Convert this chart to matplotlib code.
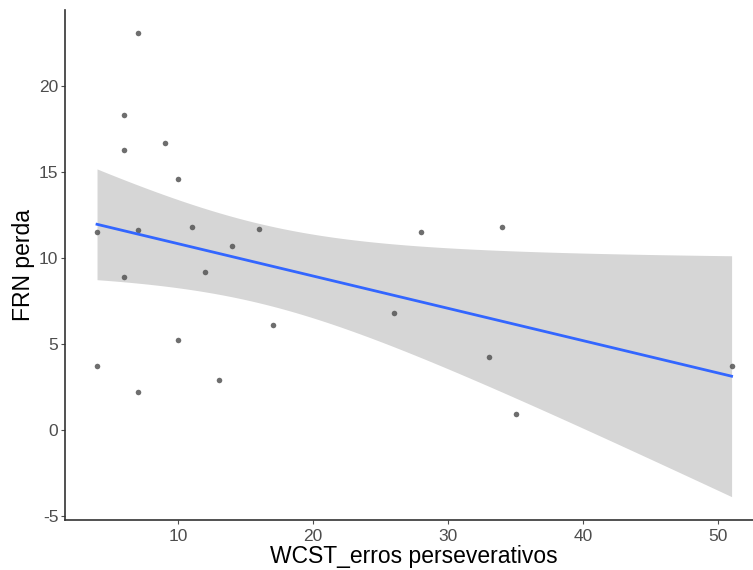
import numpy as np
from matplotlib import pyplot as plt

plt.rcParams['font.family'] = ['Liberation Sans', 'DejaVu Sans']
plt.rcParams['axes.unicode_minus'] = False

# Data
wcst_erros = [7, 6, 9, 6, 10, 4, 7, 11, 16, 14, 6, 12, 17, 10, 4, 13, 7,
              28, 34, 26, 33, 35, 51]
frn_perda = [23.1, 18.3, 16.7, 16.3, 14.6, 11.5, 11.6, 11.8, 11.7, 10.7, 8.9, 9.2, 6.1, 5.2, 3.7, 2.9, 2.2,
             11.5, 11.8, 6.8, 4.2, 0.9, 3.7]

x = np.array(wcst_erros, dtype=float)
y = np.array(frn_perda, dtype=float)

# Linear fit with 95% confidence band (like geom_smooth(method="lm"))
n = len(x)
slope, intercept = np.polyfit(x, y, 1)
resid = y - (slope * x + intercept)
s = np.sqrt(np.sum(resid ** 2) / (n - 2))
t_crit = 2.0796  # t(0.975, df=21)
xs = np.linspace(x.min(), x.max(), 100)
ys = slope * xs + intercept
se = s * np.sqrt(1 / n + (xs - x.mean()) ** 2 / np.sum((x - x.mean()) ** 2))
lower = ys - t_crit * se
upper = ys + t_crit * se

fig = plt.figure(figsize=(7.53, 5.70), dpi=100)
ax = fig.add_axes([0.0867, 0.088, 0.927, 0.895])

ax.fill_between(xs, lower, upper, color='#d6d6d6', linewidth=0, zorder=1)
ax.scatter(x, y, s=16, color='#555555', alpha=0.85, linewidths=0, zorder=2)
ax.plot(xs, ys, color='#3366FF', linewidth=2, zorder=3)

x_pad = 0.05 * (x.max() - x.min())
ax.set_xlim(x.min() - x_pad, x.max() + x_pad)
y_lo = min(y.min(), lower.min())
y_hi = max(y.max(), upper.max())
y_pad = 0.05 * (y_hi - y_lo)
ax.set_ylim(y_lo - y_pad, y_hi + y_pad)

ax.set_xticks([10, 20, 30, 40, 50])
ax.set_yticks([-5, 0, 5, 10, 15, 20])

for side in ['top', 'right']:
    ax.spines[side].set_visible(False)
for side in ['left', 'bottom']:
    ax.spines[side].set_color('#333333')
    ax.spines[side].set_linewidth(1.2)

ax.tick_params(colors='#4d4d4d', labelsize=12.5, length=3, width=0.8)
ax.tick_params(axis='y', pad=2)
ax.set_xlabel("WCST_erros perseverativos", fontsize=16.5, labelpad=1)
ax.set_ylabel("FRN perda", fontsize=16.5, labelpad=3)

fig.savefig("out.png", dpi=100)
